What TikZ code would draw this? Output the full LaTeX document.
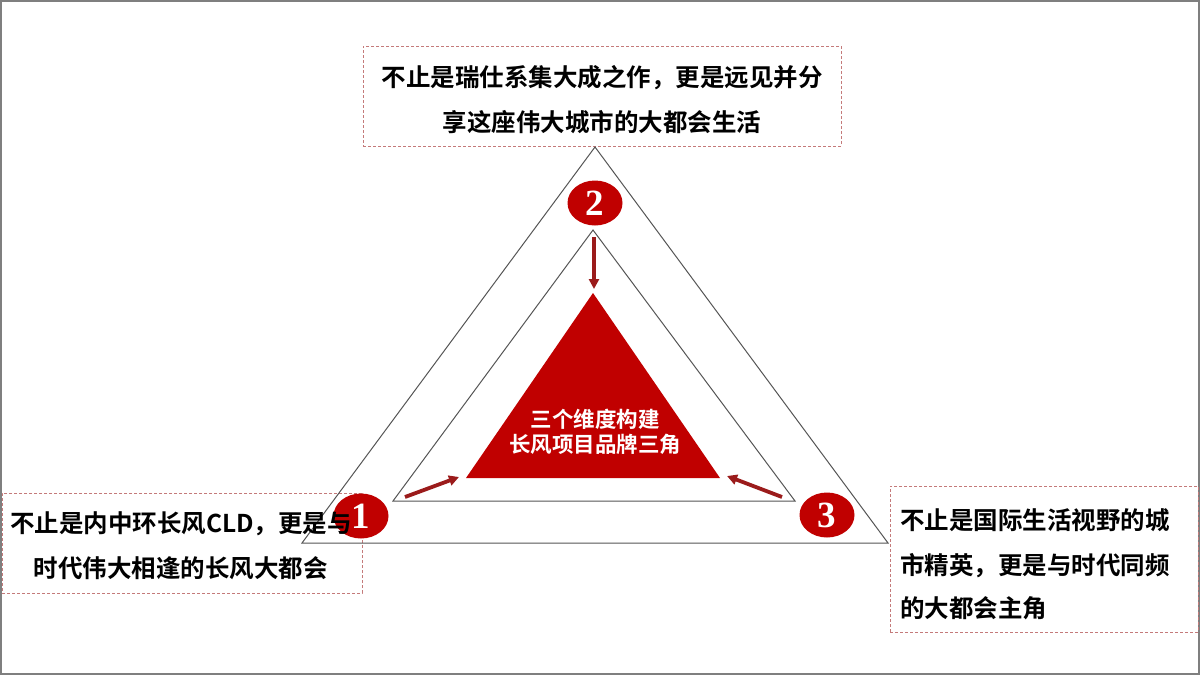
\documentclass[tikz,border=0pt]{standalone}
\usepackage{fontspec}
\newfontfamily\cjk{Noto Sans CJK SC}[BoldFont={Noto Sans CJK SC Bold}]
\newfontfamily\numfont{Liberation Serif}
\usetikzlibrary{shapes.geometric,arrows.meta}
\definecolor{corered}{HTML}{C00000}
\definecolor{arrowred}{HTML}{9B1B1B}
\definecolor{dashred}{HTML}{C47A7A}
\definecolor{tri}{HTML}{555555}
\definecolor{frame}{HTML}{7F7F7F}
\tikzset{
  dashbox/.style={draw=dashred, line width=0.9pt, dash pattern=on 3pt off 2pt, inner sep=0pt},
  bodytext/.style={font=\cjk\bfseries\fontsize{24.5}{45}\selectfont, text=black, inner sep=0pt},
  badge/.style={ellipse, fill=corered, minimum width=55pt, minimum height=45pt, inner sep=0pt,
    text=white, font=\numfont\bfseries\fontsize{37}{37}\selectfont},
  triline/.style={draw=tri, line width=1pt},
  pointer/.style={draw=arrowred, line width=3.8pt, -{Triangle[length=10pt,width=10pt]}}
}
\begin{document}
\begin{tikzpicture}[x=1pt,y=-1pt]
\useasboundingbox (0,0) rectangle (1200,675);
\fill[white] (0,0) rectangle (1200,675);
\draw[frame, line width=2pt] (1,1) rectangle (1199,674);

% dashed boxes
\node[dashbox, minimum width=478pt, minimum height=100pt] (topbox) at (602,96) {};
\node[dashbox, minimum width=360pt, minimum height=100pt] (leftbox) at (182,543) {};
\node[dashbox, minimum width=308pt, minimum height=146pt] (rightbox) at (1044,559) {};

% triangles
\coordinate (oA) at (595,147);
\coordinate (oL) at (302,543);
\coordinate (oR) at (888,543);
\coordinate (iA) at (593,230);
\coordinate (iL) at (393,501);
\coordinate (iR) at (795,501);
\coordinate (rA) at (593,293);
\coordinate (rL) at (466,478);
\coordinate (rR) at (720,478);
\draw[triline] (oA) -- (oL) -- (oR) -- cycle;
\draw[triline] (iA) -- (iL) -- (iR) -- cycle;
\fill[corered] (rA) -- (rL) -- (rR) -- cycle;

% arrows
\coordinate (a2s) at (594,237);
\coordinate (a2e) at (594,289);
\coordinate (a1s) at (405,497);
\coordinate (a1e) at (459,477);
\coordinate (a3s) at (782,497);
\coordinate (a3e) at (727,476);
\draw[pointer] (a2s) -- (a2e);
\draw[pointer] (a1s) -- (a1e);
\draw[pointer] (a3s) -- (a3e);

% badges
\node[badge] (c2) at (595,203) {2};
\node[badge] (c1) at (361,516) {1};
\node[badge] (c3) at (827,515) {3};

% texts
\node[font=\cjk\bfseries\fontsize{21.5}{25}\selectfont, text=white, align=center, inner sep=0pt] (core) at (595,432)
  {三个维度构建\\长风项目品牌三角};
\node[bodytext, align=center] (toptext) at (602,100)
  {不止是瑞仕系集大成之作，更是远见并分\\享这座伟大城市的大都会生活};
\node[bodytext, align=center] (lefttext) at (181,546)
  {不止是内中环长风CLD，更是与\\时代伟大相逢的长风大都会};
\node[bodytext, align=left, anchor=north west] (righttext) at (900,508)
  {不止是国际生活视野的城\\[0pt]市精英，更是与时代同频\\[-2pt]的大都会主角};
\end{tikzpicture}
\end{document}
